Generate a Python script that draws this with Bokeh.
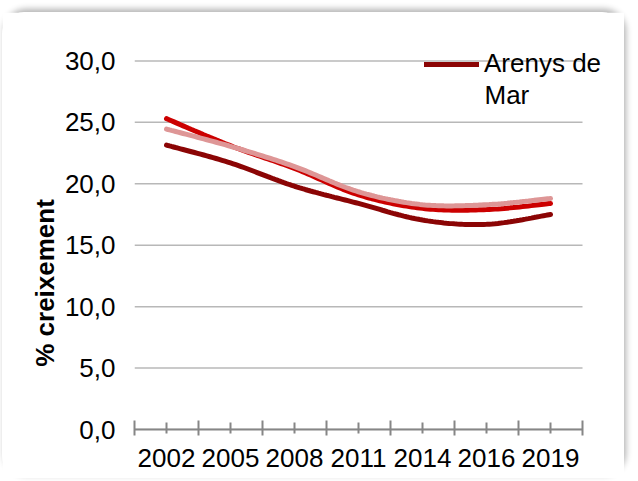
import numpy as np
from bokeh.plotting import figure
from bokeh.models import Range1d, FixedTicker, Legend, LegendItem, Label
from bokeh.embed import file_html
from bokeh.resources import INLINE

# ---- data ----
years = ["2002", "2005", "2008", "2011", "2014", "2016", "2019"]
arenys_de_mar = [23.15, 21.7, 19.8, 18.4, 17.05, 16.7, 17.5]
serie_vermella = [25.3, 23.1, 21.25, 19.1, 18.0, 17.9, 18.4]
serie_rosa = [24.45, 23.05, 21.4, 19.35, 18.3, 18.3, 18.8]
y_ticks = [0, 5, 10, 15, 20, 25, 30]
y_tick_labels = ["0,0", "5,0", "10,0", "15,0", "20,0", "25,0", "30,0"]

FONT = "Liberation Sans"


def smooth(xs, ys, n=24):
    """Catmull-Rom curve through the data points (rendering of a smoothed line)."""
    px = [xs[0]] + list(xs) + [xs[-1]]
    py = [ys[0]] + list(ys) + [ys[-1]]
    ox, oy = [], []
    for i in range(1, len(px) - 2):
        for t in np.linspace(0, 1, n, endpoint=False):
            t2, t3 = t * t, t * t * t
            def cr(p):
                return 0.5 * ((2 * p[i]) + (-p[i - 1] + p[i + 1]) * t
                              + (2 * p[i - 1] - 5 * p[i] + 4 * p[i + 1] - p[i + 2]) * t2
                              + (-p[i - 1] + 3 * p[i] - 3 * p[i + 1] + p[i + 2]) * t3)
            ox.append(cr(px))
            oy.append(cr(py))
    ox.append(xs[-1])
    oy.append(ys[-1])
    return ox, oy


n_cat = len(years)
xpos = [i + 0.5 for i in range(n_cat)]

p = figure(width=622, height=466,
           x_range=Range1d(0, 7.5), y_range=Range1d(0, 31.5),
           output_backend="svg", toolbar_location=None,
           min_border_left=132, min_border_right=10,
           min_border_top=30, min_border_bottom=49,
           background_fill_color="white", border_fill_color="white",
           outline_line_color=None,
           styles={"border-radius": "22px",
                   "box-shadow": "2px -3px 6px rgba(0,0,0,0.30)",
                   "margin-top": "12px", "margin-left": "2px"})

# axes
p.xaxis.bounds = (0, n_cat)
p.xaxis.ticker = FixedTicker(ticks=xpos, minor_ticks=list(range(n_cat + 1)))
p.xaxis.major_label_overrides = {x: y for x, y in zip(xpos, years)}
p.xaxis.axis_line_color = "#868686"
p.xaxis.axis_line_width = 2
p.xaxis.major_tick_line_color = "#868686"
p.xaxis.major_tick_line_width = 2
p.xaxis.minor_tick_line_color = "#868686"
p.xaxis.minor_tick_line_width = 2
p.xaxis.major_tick_in = 7
p.xaxis.major_tick_out = 4
p.xaxis.minor_tick_in = 9
p.xaxis.minor_tick_out = 6
p.xaxis.major_label_text_font = FONT
p.xaxis.major_label_text_font_size = "26px"
p.xaxis.major_label_text_color = "black"
p.xaxis.major_label_standoff = 13

p.yaxis.ticker = FixedTicker(ticks=y_ticks, minor_ticks=[])
p.yaxis.major_label_overrides = {t: l for t, l in zip(y_ticks, y_tick_labels)}
p.yaxis.axis_line_color = None
p.yaxis.major_tick_line_color = None
p.yaxis.minor_tick_line_color = None
p.yaxis.major_tick_in = 0
p.yaxis.major_tick_out = 0
p.yaxis.major_label_standoff = 19
p.yaxis.major_label_text_font = FONT
p.yaxis.major_label_text_font_size = "26px"
p.yaxis.major_label_text_color = "black"
p.yaxis.axis_label = "% creixement" + "\u00a0" * 13
p.yaxis.axis_label_text_font = FONT
p.yaxis.axis_label_text_font_size = "26px"
p.yaxis.axis_label_text_font_style = "bold"
p.yaxis.axis_label_text_color = "black"
p.yaxis.axis_label_standoff = 2

p.xgrid.grid_line_color = None
p.ygrid.grid_line_color = None
# horizontal gridlines limited to the category span
p.segment(x0=[0] * len(y_ticks), x1=[n_cat] * len(y_ticks), y0=y_ticks, y1=y_ticks,
          line_color="#B8B8B8", line_width=1.5)

# lines
sx, sy = smooth(xpos, arenys_de_mar)
r_dark = p.line(sx, sy, line_color="#8B0505", line_width=5, line_cap="round")
sx, sy = smooth(xpos, serie_vermella)
p.line(sx, sy, line_color="#CC0000", line_width=5, line_cap="round")
sx, sy = smooth(xpos, serie_rosa)
p.line(sx, sy, line_color="#DE9696", line_width=5, line_cap="round")

legend = Legend(items=[LegendItem(label="Arenys de", renderers=[r_dark])],
                location=(290, 350), border_line_color=None,
                background_fill_alpha=0, padding=0, margin=0,
                glyph_width=55, glyph_height=26, label_standoff=5,
                label_text_font=FONT, label_text_font_size="26px",
                label_text_color="black")
p.add_layout(legend)
p.add_layout(Label(x=350, y=335, x_units="screen", y_units="screen", text="Mar",
                   text_font=FONT, text_font_size="26px", text_color="black",
                   text_align="left", text_baseline="middle"))

open("out.html", "w").write(file_html(p, INLINE))
